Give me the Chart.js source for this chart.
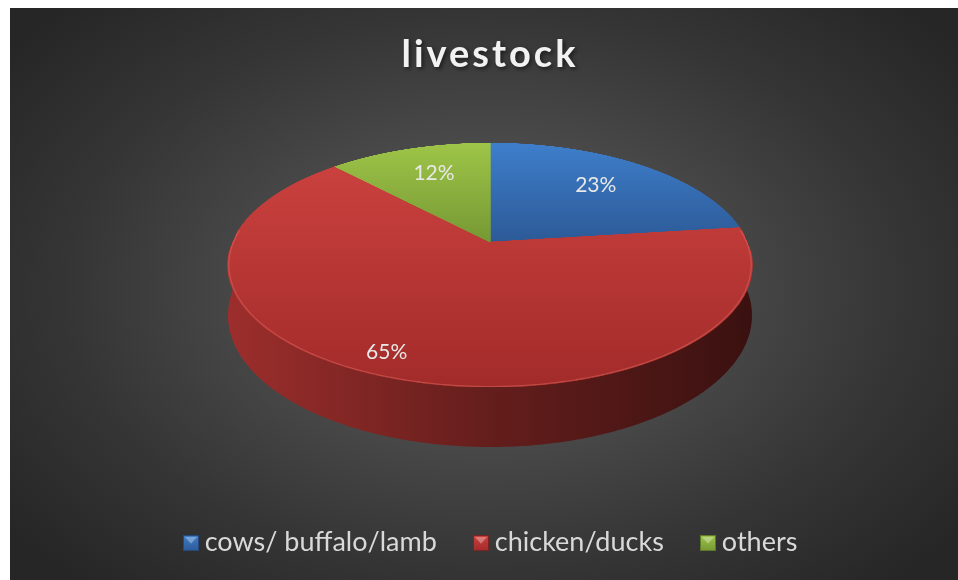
<!DOCTYPE html>
<html>
<head>
<meta charset="utf-8">
<title>livestock</title>
<script src="https://cdn.jsdelivr.net/npm/chart.js@4.4.1/dist/chart.umd.min.js"></script>
<style>
  html, body { margin: 0; padding: 0; background: #ffffff; }
  #chart { display: block; }
</style>
</head>
<body>
<canvas id="chart" width="958" height="580"></canvas>
<script>
// ---- data ----
const categories = ['cows/ buffalo/lamb', 'chicken/ducks', 'others'];
const shares = [23, 65, 12];
const chartTitle = 'livestock';

// ---- colours ----
const baseColors = ['#3569b1', '#b53633', '#8aae3e'];
const faceTop = ['#3e7ecb', '#ca413e', '#9ec548'];
const faceBottom = ['#2c5a97', '#a22b2a', '#769834'];
const keyBorder = ['#25497c', '#7a2422', '#5d7a2b'];

// legend key geometry: the key is painted by hand, the library only reserves room
const KEY = 16, KEY_GAP = 6, LEGEND_FONT = 27;

function shade(hex, f) {
  const n = parseInt(hex.slice(1), 16);
  const r = Math.round(((n >> 16) & 255) * f);
  const g = Math.round(((n >> 8) & 255) * f);
  const b = Math.round((n & 255) * f);
  return `rgb(${r},${g},${b})`;
}

// Tilted-disc view: rows of the flat pie are remapped with a perspective divide.
const pie3d = {
  id: 'pie3d',
  beforeDraw(chart) {
    const ctx = chart.ctx;
    ctx.save();
    ctx.fillStyle = '#ffffff';
    ctx.fillRect(0, 0, chart.width, chart.height);
    const x0 = 10, y0 = 8, w = chart.width - x0, h = chart.height - y0;
    const gcx = 486, gcy = 290, sy = 0.66;
    ctx.beginPath();
    ctx.rect(x0, y0, w, h);
    ctx.clip();
    ctx.translate(gcx, gcy);
    ctx.scale(1, sy);
    const g = ctx.createRadialGradient(0, 0, 0, 0, 0, 600);
    g.addColorStop(0, '#5a5a5a');
    g.addColorStop(0.35, '#4b4b4b');
    g.addColorStop(0.7, '#353535');
    g.addColorStop(1, '#262626');
    ctx.fillStyle = g;
    ctx.fillRect(x0 - gcx, (y0 - gcy) / sy, w, h / sy);
    ctx.restore();

    // title with letter spacing and a soft drop shadow
    const tb = chart.titleBlock;
    if (tb && !tb._styled) {
      const orig = tb.draw.bind(tb);
      tb.draw = function () {
        const c = chart.ctx;
        c.save();
        c.letterSpacing = '3px';
        c.shadowColor = 'rgba(0,0,0,0.55)';
        c.shadowBlur = 4;
        c.shadowOffsetX = 2;
        c.shadowOffsetY = 2;
        orig();
        c.restore();
      };
      tb._styled = true;
    }
  },
  beforeDatasetsDraw(chart, args, opts) {
    const ctx = chart.ctx;
    const meta = chart.getDatasetMeta(0);
    const arcs = meta.data;
    if (!arcs.length) return false;
    const view = opts.view;
    const cx = arcs[0].x;
    const k = view.persp;
    const project = (ang, r) => {
      const u = Math.cos(ang) * r, v = Math.sin(ang) * r;
      const s = 1 / (1 - k * v);
      return [cx + view.rx * u * s, view.apexY + view.ry * v * s, s];
    };

    // side walls (front half of the rim)
    const lo = -0.45, hi = Math.PI + 0.45;
    arcs.forEach((el, i) => {
      const pieces = [
        [Math.max(el.startAngle, lo), Math.min(el.endAngle, hi)],
        [Math.max(el.startAngle - 2 * Math.PI, lo), Math.min(el.endAngle - 2 * Math.PI, hi)]
      ];
      pieces.forEach(([s0, s1]) => {
        if (s1 <= s0) return;
        const n = Math.max(8, Math.ceil((s1 - s0) * 90));
        const top = [], bot = [];
        for (let j = 0; j <= n; j++) {
          const a = s0 + (s1 - s0) * j / n;
          const [x, y, s] = project(a, 1);
          top.push([x, y]);
          bot.push([x, y + view.depth * s]);
        }
        ctx.save();
        ctx.beginPath();
        top.forEach((p, j) => (j ? ctx.lineTo(p[0], p[1]) : ctx.moveTo(p[0], p[1])));
        for (let j = bot.length - 1; j >= 0; j--) ctx.lineTo(bot[j][0], bot[j][1]);
        ctx.closePath();
        const gx = ctx.createLinearGradient(cx - view.rx * 1.02, 0, cx + view.rx * 1.02, 0);
        gx.addColorStop(0, shade(baseColors[i], 0.86));
        gx.addColorStop(0.5, shade(baseColors[i], 0.55));
        gx.addColorStop(1, shade(baseColors[i], 0.32));
        ctx.fillStyle = gx;
        ctx.fill();
        ctx.restore();
      });
    });

    // top faces: each arc drawn flat by Chart.js, then warped row by row
    const R = 420;
    const off = document.createElement('canvas');
    off.width = off.height = 2 * R;
    const octx = off.getContext('2d');
    const warp = document.createElement('canvas');
    warp.width = chart.width;
    warp.height = chart.height;
    const wctx = warp.getContext('2d');
    const yTop = Math.floor(view.apexY - view.ry / (1 + k)) - 1;
    const yBot = Math.ceil(view.apexY + view.ry / (1 - k)) + 1;

    arcs.forEach((el, i) => {
      octx.setTransform(1, 0, 0, 1, 0, 0);
      octx.clearRect(0, 0, 2 * R, 2 * R);
      const f = R / el.outerRadius;
      octx.setTransform(f, 0, 0, f, R - el.x * f, R - el.y * f);
      el.draw(octx);

      wctx.setTransform(1, 0, 0, 1, 0, 0);
      wctx.globalCompositeOperation = 'source-over';
      wctx.clearRect(0, 0, warp.width, warp.height);
      wctx.imageSmoothingEnabled = true;
      for (let y = yTop; y <= yBot; y++) {
        const d = y + 0.5 - view.apexY;
        const v = d / (view.ry + d * k);
        if (v < -1.01 || v > 1.01) continue;
        const s = 1 / (1 - k * v);
        const half = view.rx * s;
        wctx.drawImage(off, 0, R + v * R - 0.5, 2 * R, 1, cx - half, y, 2 * half, 1);
      }
      // vertical shading over the slice's own extent
      let minY = view.apexY, maxY = view.apexY;
      const n = 120;
      for (let j = 0; j <= n; j++) {
        const p = project(el.startAngle + (el.endAngle - el.startAngle) * j / n, 1);
        minY = Math.min(minY, p[1]);
        maxY = Math.max(maxY, p[1]);
      }
      const gy = wctx.createLinearGradient(0, minY, 0, maxY);
      gy.addColorStop(0, faceTop[i]);
      gy.addColorStop(1, faceBottom[i]);
      wctx.globalCompositeOperation = 'source-in';
      wctx.fillStyle = gy;
      wctx.fillRect(0, 0, warp.width, warp.height);
      ctx.drawImage(warp, 0, 0);
    });

    // light bevel line where the top meets the front wall
    ctx.save();
    ctx.beginPath();
    for (let j = 0; j <= 200; j++) {
      const a = -0.1 + (Math.PI + 0.2) * j / 200;
      const [x, y] = project(a, 0.997);
      j ? ctx.lineTo(x, y) : ctx.moveTo(x, y);
    }
    ctx.strokeStyle = 'rgba(235,120,110,0.4)';
    ctx.lineWidth = 1.2;
    ctx.stroke();
    ctx.restore();

    // percentage labels
    const total = shares.reduce((a, b) => a + b, 0);
    ctx.save();
    ctx.font = opts.labelFont;
    ctx.fillStyle = opts.labelColor;
    ctx.textAlign = 'center';
    ctx.textBaseline = 'middle';
    arcs.forEach((el, i) => {
      const mid = (el.startAngle + el.endAngle) / 2 + opts.labelTurn[i];
      const [x, y] = project(mid, opts.labelRadius[i]);
      ctx.fillText(Math.round(shares[i] / total * 100) + '%', x, y);
    });
    ctx.restore();
    return false;
  },
  afterDraw(chart) {
    // bevelled legend keys
    const lg = chart.legend;
    if (!lg || !lg.legendHitBoxes) return;
    const ctx = chart.ctx;
    lg.legendHitBoxes.forEach((hb, i) => {
      const x = Math.round(hb.left), y = Math.round(hb.top + hb.height / 2 - KEY / 2);
      ctx.save();
      const g = ctx.createLinearGradient(0, y, 0, y + KEY);
      g.addColorStop(0, faceTop[i]);
      g.addColorStop(1, faceBottom[i]);
      ctx.fillStyle = g;
      ctx.fillRect(x, y, KEY, KEY);
      ctx.strokeStyle = keyBorder[i];
      ctx.lineWidth = 1;
      ctx.strokeRect(x + 0.5, y + 0.5, KEY - 1, KEY - 1);
      ctx.beginPath();
      ctx.moveTo(x + 2, y + 2);
      ctx.lineTo(x + KEY - 2, y + 2);
      ctx.lineTo(x + KEY / 2, y + KEY * 0.55);
      ctx.closePath();
      ctx.fillStyle = 'rgba(255,255,255,0.32)';
      ctx.fill();
      ctx.restore();
    });
  }
};

const chart = new Chart(document.getElementById('chart'), {
  type: 'pie',
  data: {
    labels: categories,
    datasets: [{
      data: shares,
      backgroundColor: baseColors,
      borderColor: baseColors,
      borderWidth: 1.2
    }]
  },
  options: {
    responsive: false,
    animation: false,
    devicePixelRatio: 1,
    layout: { padding: { top: 8, left: 22, right: 0, bottom: 14 } },
    events: [],
    plugins: {
      title: {
        display: true,
        text: chartTitle,
        color: '#f2f2f2',
        font: { family: 'Lato', size: 38, weight: 'bold' },
        padding: { top: 24, bottom: 10 }
      },
      legend: {
        position: 'bottom',
        labels: {
          color: '#d9d9d9',
          font: { family: 'Lato', size: LEGEND_FONT },
          // room for the hand-painted key plus its gap to the text
          boxWidth: KEY + KEY_GAP - LEGEND_FONT / 2,
          boxHeight: KEY,
          padding: 36,
          generateLabels: () => categories.map((t, i) => ({
            text: t,
            fillStyle: 'rgba(0,0,0,0)',
            strokeStyle: 'rgba(0,0,0,0)',
            lineWidth: 0,
            fontColor: '#d9d9d9',
            hidden: false,
            index: i
          }))
        }
      },
      tooltip: { enabled: false },
      pie3d: {
        view: { apexY: 242, rx: 257.3, ry: 117.7, persp: 0.1885, depth: 48.7 },
        labelRadius: [0.7, 0.865, 0.7],
        labelTurn: [-0.02, 0.06, 0.02],
        labelFont: '21px Lato',
        labelColor: '#e8e8e8'
      }
    }
  },
  plugins: [pie3d]
});
</script>
</body>
</html>
